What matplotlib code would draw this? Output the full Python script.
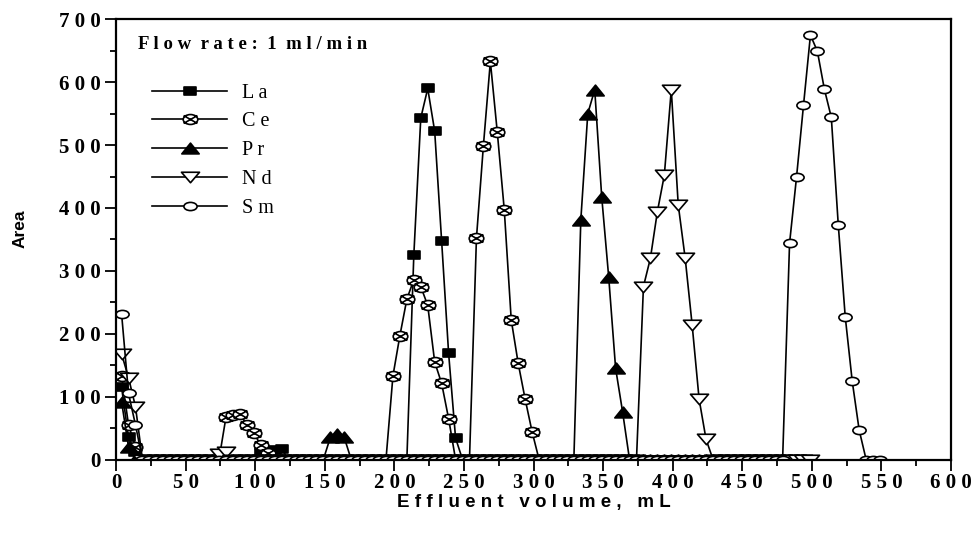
import matplotlib
matplotlib.use("Agg")
import matplotlib.pyplot as plt
import matplotlib.transforms as mtransforms
from matplotlib.path import Path
from matplotlib.ticker import FixedLocator, FixedFormatter, MultipleLocator

# ---------------- data ----------------
# fraction volumes (mL) at which the area was recorded
volume = [4, 9, 14, 19, 24, 29, 34, 39, 44, 49, 54, 59, 64, 69, 74, 79, 84, 89, 94, 99,
          104, 109, 114, 119, 124, 129, 134, 139, 144, 149, 154, 159, 164, 169, 174, 179,
          184, 189, 194, 199, 204, 209, 214, 219, 224, 229, 234, 239, 244, 249, 254, 259,
          264, 269, 274, 279, 284, 289, 294, 299, 304, 309, 314, 319, 324, 329, 334, 339,
          344, 349, 354, 359, 364, 369, 374, 379, 384, 389, 394, 399, 404, 409, 414, 419,
          424, 429, 434, 439, 444, 449, 454, 459, 464, 469, 474, 479, 484, 489, 494, 499,
          504, 509, 514, 519, 524, 529, 534, 539, 544, 549]

# non-zero readings (volume: area); every other recorded fraction reads 0
la_peaks = {4: 115, 9: 35, 14: 12, 104: 10, 109: 14, 114: 15, 119: 17,
            214: 325, 219: 543, 224: 590, 229: 522, 234: 347, 239: 169, 244: 34}
ce_peaks = {4: 133, 9: 55, 14: 20, 79: 67, 84: 71, 89: 73, 94: 55, 99: 42, 104: 23, 109: 10,
            199: 133, 204: 197, 209: 255, 214: 286, 219: 275, 224: 245, 229: 155, 234: 121,
            239: 65, 259: 352, 264: 499, 269: 633, 274: 520, 279: 397, 284: 222, 289: 153,
            294: 96, 299: 44}
pr_peaks = {4: 92, 9: 20, 154: 35, 159: 40, 164: 35,
            334: 381, 339: 550, 344: 588, 349: 418, 354: 291, 359: 145, 364: 76}
nd_peaks = {4: 168, 9: 130, 14: 84, 74: 8, 79: 12,
            379: 275, 384: 320, 389: 394, 394: 452, 399: 588, 404: 405, 409: 320, 414: 214,
            419: 96, 424: 32}
sm_peaks = {4: 232, 9: 105, 14: 55,
            484: 344, 489: 449, 494: 563, 499: 675, 504: 649, 509: 589, 514: 544, 519: 373,
            524: 227, 529: 125, 534: 47}

# last recorded fraction of each series
last_volume = {"La": 494, "Ce": 494, "Pr": 494, "Nd": 499, "Sm": 549}
labels = ["L a", "C e", "P r", "N d", "S m"]

x_ticks = [0, 50, 100, 150, 200, 250, 300, 350, 400, 450, 500, 550, 600]
y_ticks = [0, 100, 200, 300, 400, 500, 600, 700]


def series(peaks, last):
    xs = [v for v in volume if v <= last]
    ys = [peaks.get(v, 0) for v in xs]
    return xs, ys


# ---------------- markers ----------------
def ellipse(aspect):
    return Path.unit_circle().transformed(mtransforms.Affine2D().scale(1, aspect))


rect_m = Path([(-1, -0.62), (1, -0.62), (1, 0.62), (-1, 0.62), (-1, -0.62)],
              [Path.MOVETO, Path.LINETO, Path.LINETO, Path.LINETO, Path.CLOSEPOLY])
tri_up = Path([(-1, -0.62), (1, -0.62), (0, 0.62), (-1, -0.62)],
              [Path.MOVETO, Path.LINETO, Path.LINETO, Path.CLOSEPOLY])
tri_dn = Path([(-1, 0.58), (1, 0.58), (0, -0.58), (-1, 0.58)],
              [Path.MOVETO, Path.LINETO, Path.LINETO, Path.CLOSEPOLY])
ell = ellipse(0.62)
e = ellipse(0.68)
a = 0.68
cross_ell = Path(list(e.vertices) + [(-0.95, -0.8 * a), (0.95, 0.8 * a), (-0.95, 0.8 * a), (0.95, -0.8 * a)],
                 list(e.codes) + [Path.MOVETO, Path.LINETO, Path.MOVETO, Path.LINETO])

plt.rcParams['font.family'] = ['Liberation Serif', 'DejaVu Serif']

fig = plt.figure(figsize=(9.75, 5.41), dpi=100)
ax = fig.add_axes([116 / 975, 1 - 459.5 / 541, 835 / 975, 440.2 / 541])

styles = [
    ("La", la_peaks, dict(marker=rect_m, ms=8.5, mfc="black", mec="black")),
    ("Ce", ce_peaks, dict(marker=cross_ell, ms=10.5, mfc="white", mec="black")),
    ("Pr", pr_peaks, dict(marker=tri_up, ms=12.5, mfc="black", mec="black")),
    ("Nd", nd_peaks, dict(marker=tri_dn, ms=13, mfc="white", mec="black")),
    ("Sm", sm_peaks, dict(marker=ell, ms=9.5, mfc="white", mec="black")),
]
for (name, peaks, st), lab in zip(styles, labels):
    xs, ys = series(peaks, last_volume[name])
    ax.plot(xs, ys, color="black", lw=1.2, mew=1.2, label=lab, **st)

ax.set_xlim(0, 600)
ax.set_ylim(0, 700)

ax.xaxis.set_major_locator(FixedLocator(x_ticks))
ax.xaxis.set_major_formatter(FixedFormatter([" ".join(str(v)) for v in x_ticks]))
ax.xaxis.set_minor_locator(MultipleLocator(25))
ax.yaxis.set_major_locator(FixedLocator(y_ticks))
ax.yaxis.set_major_formatter(FixedFormatter([" ".join(str(v)) for v in y_ticks]))
ax.yaxis.set_minor_locator(MultipleLocator(50))

ax.tick_params(which="major", direction="out", length=8, width=1.3, pad=3,
               labelsize=15)
ax.tick_params(axis="x", which="major", pad=2)
ax.tick_params(which="minor", direction="out", length=4, width=1.3)
for lab in ax.get_xticklabels() + ax.get_yticklabels():
    lab.set_fontweight("bold")
for sp in ax.spines.values():
    sp.set_linewidth(1.6)

ax.set_xlabel("E f f l u e n t   v o l u m e ,   m L", fontsize=13.5, fontweight="bold",
              family=["Liberation Sans", "DejaVu Sans"], labelpad=0.5)
ax.set_ylabel("Area", fontsize=12.5, fontweight="bold",
              family=["Liberation Sans", "DejaVu Sans"])
ax.yaxis.set_label_coords(-0.106, 0.524)

flow = "  ".join(" ".join(w) for w in ["Flow", "rate:", "1", "ml/min"])
ax.text(0.026, 0.942, flow, transform=ax.transAxes,
        fontsize=13.5, fontweight="bold", va="center", ha="left",
        family=["Liberation Serif", "DejaVu Serif"])

leg = ax.legend(loc="upper left", bbox_to_anchor=(0.043, 0.854), frameon=False,
                fontsize=14.5, numpoints=1, handlelength=3.75, handletextpad=0.7,
                labelspacing=0.48, borderpad=0, borderaxespad=0)

fig.savefig("out.png", dpi=100)
